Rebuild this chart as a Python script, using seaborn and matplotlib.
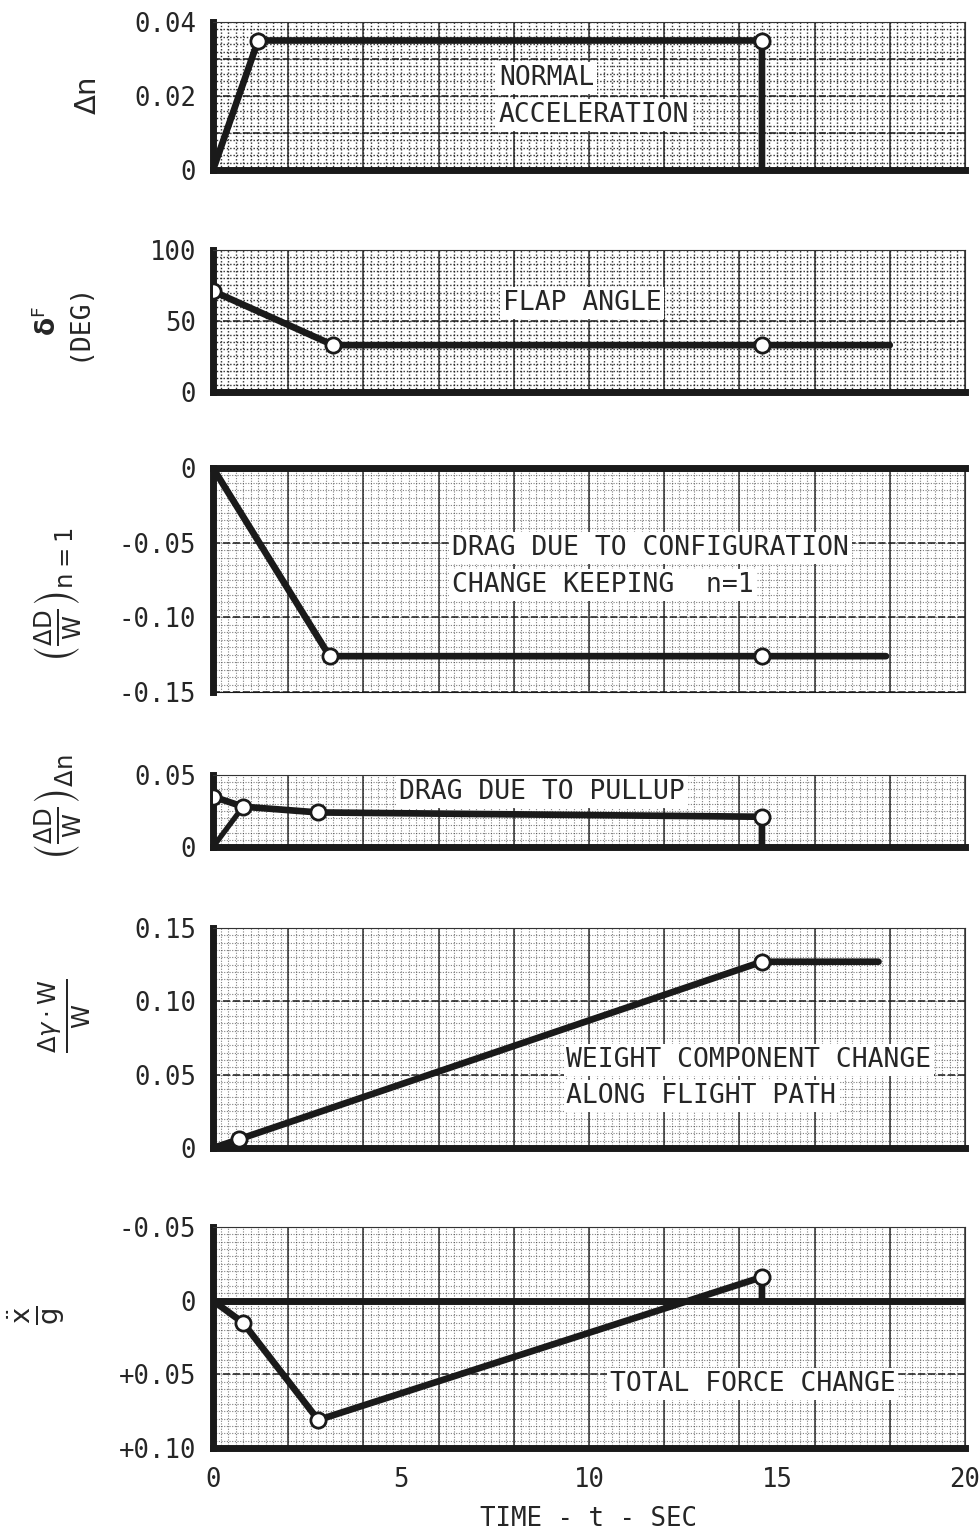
import numpy as np
import pandas as pd
import matplotlib
matplotlib.use("Agg")
import matplotlib.pyplot as plt
import seaborn as sns

sns.set_theme(style="white")
plt.rcParams['font.family'] = ['DejaVu Sans Mono', 'DejaVu Sans']
plt.rcParams['mathtext.fontset'] = 'dejavusans'

# ---- time histories (t in seconds) ----
t_dn = [0.0, 1.2, 14.6, 14.6]
dn = [0.0, 0.035, 0.035, 0.0]
dn_mark = [1, 2]

t_flap = [0.0, 3.2, 14.6, 18.0]
flap = [71.0, 33.0, 33.0, 33.0]
flap_mark = [0, 1, 2]

t_cfg = [0.0, 3.1, 14.6, 17.9]
cfg = [0.0, -0.126, -0.126, -0.126]
cfg_mark = [1, 2]

t_pull = [0.0, 0.8, 2.8, 14.6, 14.6]
pull = [0.035, 0.028, 0.024, 0.021, 0.0]
pull_mark = [0, 1, 2, 3]
t_pull_rise = [0.0, 0.8]
pull_rise = [0.0, 0.028]

t_wt = [0.0, 0.7, 14.6, 17.7]
wt = [0.0, 0.006, 0.127, 0.127]
wt_mark = [1, 2]

t_tot = [0.0, 0.8, 2.8, 14.6, 14.6]
tot = [0.0, 0.015, 0.081, -0.016, 0.0]
tot_mark = [1, 2, 3]

x_ticks = [0, 5, 10, 15, 20]

FS = 18.5
NS = 19
LW = 4.8

fig = plt.figure(figsize=(9.8, 15.37), dpi=100)
L, W = 213 / 980, 752 / 980


def rect(top_px, bot_px):
    return [L, 1 - bot_px / 1537, W, (bot_px - top_px) / 1537]


def paper(ax, ylo, yhi, ymaj, ymin, dark):
    """Graph-paper background: fine dotted rules plus heavier rules."""
    a_min = 0.9 if dark else 0.55
    lw_min = 1.0 if dark else 0.8
    for x in np.arange(0, 20.001, 0.2):
        ax.axvline(x, color='k', lw=lw_min, ls=(0, (1, 1.4)), alpha=a_min, zorder=0)
    for y in np.arange(ylo, yhi + 1e-9, ymin):
        ax.axhline(y, color='k', lw=lw_min, ls=(0, (1, 1.4)), alpha=a_min, zorder=0)
    for x in np.arange(0, 20.001, 2.0):
        ax.axvline(x, color='k', lw=1.1, alpha=0.9, zorder=0)
    for y in np.arange(ylo, yhi + 1e-9, ymaj):
        ax.axhline(y, color='k', lw=1.3, ls=(0, (4, 1.5)), alpha=0.85, zorder=0)


def style(ax, yticks, ylabels, thick_bottom=True, thick_top=False):
    ax.set_xlim(0, 20)
    ax.set_yticks(yticks)
    ax.set_yticklabels(ylabels)
    ax.set_xticks(x_ticks)
    ax.tick_params(length=0, pad=12, labelsize=FS)
    ax.tick_params(axis='x', labelbottom=False)
    for s in ['top', 'right']:
        ax.spines[s].set_linewidth(0.8)
        ax.spines[s].set_color('#333333')
    ax.spines['left'].set_linewidth(5)
    ax.spines['left'].set_color('k')
    ax.spines['bottom'].set_color('k')
    ax.spines['bottom'].set_linewidth(5 if thick_bottom else 0.8)
    if thick_top:
        ax.spines['top'].set_linewidth(5)
        ax.spines['top'].set_color('k')


def trace(ax, t, v, mark):
    sns.lineplot(x=t, y=v, sort=False, estimator=None, color='k', lw=LW,
                 ax=ax, zorder=3)
    sns.scatterplot(x=[t[i] for i in mark], y=[v[i] for i in mark], s=120,
                    color='white', edgecolor='k', linewidth=2.0, ax=ax,
                    zorder=5)


def note(ax, x, y, s):
    ax.text(x, y, s, fontsize=NS, ha='left', va='center', zorder=4,
            bbox=dict(facecolor='white', edgecolor='none', pad=2))


def ylab(ax, x, y, s, size=FS):
    ax.text(x, y, s, transform=ax.transAxes, rotation=90, ha='center',
            va='center', fontsize=size)


# ---- normal acceleration ----
ax1 = fig.add_axes(rect(22, 170))
ax1.set_ylim(0, 0.04)
paper(ax1, 0, 0.04, 0.01, 0.002, True)
trace(ax1, t_dn, dn, dn_mark)
style(ax1, [0, 0.02, 0.04], ['0', '0.02', '0.04'])
note(ax1, 7.6, 0.0249, 'NORMAL')
note(ax1, 7.6, 0.0149, 'ACCELERATION')
ylab(ax1, -0.166, 0.5, r'$\Delta\mathrm{n}$', size=21)

# ---- flap angle ----
ax2 = fig.add_axes(rect(250, 392))
ax2.set_ylim(0, 100)
paper(ax2, 0, 100, 50, 5, True)
trace(ax2, t_flap, flap, flap_mark)
style(ax2, [0, 50, 100], ['0', '50', '100'])
note(ax2, 7.7, 62.5, 'FLAP ANGLE')
ylab(ax2, -0.2, 0.5, '$\\mathbf{\\delta}^{\\mathrm{F}}$\n(DEG)', size=19)

# ---- drag due to configuration change ----
ax3 = fig.add_axes(rect(468, 692))
ax3.set_ylim(-0.15, 0)
paper(ax3, -0.15, 0, 0.05, 0.005, False)
trace(ax3, t_cfg, cfg, cfg_mark)
style(ax3, [0, -0.05, -0.10, -0.15], ['0', '-0.05', '-0.10', '-0.15'],
      thick_bottom=False, thick_top=True)
note(ax3, 6.35, -0.0536, 'DRAG DUE TO CONFIGURATION')
note(ax3, 6.35, -0.0783, 'CHANGE KEEPING  n=1')
ylab(ax3, -0.205, 0.43,
     r'$\left(\frac{\Delta \mathrm{D}}{\mathrm{W}}\right)_{\mathrm{n=1}}$', size=25)

# ---- drag due to pullup ----
ax4 = fig.add_axes(rect(775, 847))
ax4.set_ylim(0, 0.05)
paper(ax4, 0, 0.05, 0.05, 0.005, False)
sns.lineplot(x=t_pull_rise, y=pull_rise, sort=False, estimator=None,
             color='k', lw=3.8, ax=ax4, zorder=3)
trace(ax4, t_pull, pull, pull_mark)
style(ax4, [0, 0.05], ['0', '0.05'])
note(ax4, 4.95, 0.038, 'DRAG DUE TO PULLUP')
ylab(ax4, -0.205, 0.55,
     r'$\left(\frac{\Delta \mathrm{D}}{\mathrm{W}}\right)_{\Delta \mathrm{n}}$', size=25)

# ---- weight component change ----
ax5 = fig.add_axes(rect(928, 1148))
ax5.set_ylim(0, 0.15)
paper(ax5, 0, 0.15, 0.05, 0.005, False)
trace(ax5, t_wt, wt, wt_mark)
style(ax5, [0, 0.05, 0.10, 0.15], ['0', '0.05', '0.10', '0.15'])
note(ax5, 9.4, 0.060, 'WEIGHT COMPONENT CHANGE')
note(ax5, 9.4, 0.0355, 'ALONG FLIGHT PATH')
ylab(ax5, -0.197, 0.6,
     r'$\frac{\Delta\gamma\cdot \mathrm{W}}{\mathrm{W}}$', size=25)

# ---- total force change ----
ax6 = fig.add_axes(rect(1227, 1448))
ax6.set_ylim(0.10, -0.05)
paper(ax6, -0.05, 0.10, 0.05, 0.005, False)
ax6.axhline(0, color='k', lw=5, zorder=2)
trace(ax6, t_tot, tot, tot_mark)
style(ax6, [-0.05, 0, 0.05, 0.10], ['-0.05', '0', '+0.05', '+0.10'])
ax6.tick_params(axis='x', labelbottom=True, pad=14)
note(ax6, 10.55, 0.0568, 'TOTAL FORCE CHANGE')
ylab(ax6, -0.235, 0.6, r'$\frac{\ddot{\mathrm{x}}}{\mathrm{g}}$', size=28)
ax6.set_xlabel('TIME - t - SEC', fontsize=FS, labelpad=9)

for ax in (ax1, ax2, ax3, ax4, ax5):
    ax.set_xlabel('')
for ax in fig.axes:
    ax.set_ylabel('')

fig.savefig('out.png', dpi=100, facecolor='white')
